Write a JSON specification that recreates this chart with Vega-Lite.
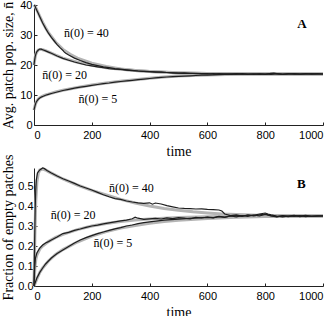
{
  "$schema": "https://vega.github.io/schema/vega-lite/v6.json",
  "padding": {"left": 1, "top": -1, "right": 0, "bottom": 0},
  "bounds": "flush",
  "spacing": 43,
  "config": {
    "view": {"stroke": null},
    "axis": {
      "grid": false,
      "domainColor": "#222",
      "tickColor": "#222",
      "tickSize": -3,
      "labelFont": "Liberation Sans",
      "labelFontSize": 11,
      "labelColor": "#000",
      "titleFont": "Liberation Serif",
      "titleFontSize": 14,
      "titleFontWeight": "normal",
      "titleColor": "#000"
    },
    "axisX": {"labelPadding": 7, "titlePadding": 4, "format": "d"},
    "axisY": {"labelPadding": 5}
  },
  "datasets": {
    "A_th": [
      {"s":40,"t":0,"v":40},{"s":40,"t":5,"v":39.3},{"s":40,"t":10,"v":38.3},{"s":40,"t":20,"v":36.2},{"s":40,"t":30,"v":34.2},{"s":40,"t":40,"v":32.4},{"s":40,"t":50,"v":30.8},{"s":40,"t":75,"v":27.6},{"s":40,"t":100,"v":25.2},{"s":40,"t":125,"v":23.6},{"s":40,"t":150,"v":22.3},{"s":40,"t":200,"v":20.6},{"s":40,"t":250,"v":19.5},{"s":40,"t":300,"v":18.7},{"s":40,"t":350,"v":18.2},{"s":40,"t":400,"v":17.8},{"s":40,"t":450,"v":17.55},{"s":40,"t":500,"v":17.35},{"s":40,"t":600,"v":17.15},{"s":40,"t":700,"v":17.05},{"s":40,"t":800,"v":17.0},{"s":40,"t":1000,"v":17.0},
      {"s":20,"t":0,"v":20},{"s":20,"t":3,"v":22},{"s":20,"t":6,"v":23.5},{"s":20,"t":10,"v":24.4},{"s":20,"t":15,"v":25},{"s":20,"t":20,"v":25.2},{"s":20,"t":25,"v":25.2},{"s":20,"t":30,"v":25.1},{"s":20,"t":40,"v":24.8},{"s":20,"t":50,"v":24.4},{"s":20,"t":75,"v":23.3},{"s":20,"t":100,"v":22.3},{"s":20,"t":150,"v":20.9},{"s":20,"t":200,"v":19.9},{"s":20,"t":250,"v":19.1},{"s":20,"t":300,"v":18.6},{"s":20,"t":350,"v":18.2},{"s":20,"t":400,"v":17.85},{"s":20,"t":500,"v":17.4},{"s":20,"t":600,"v":17.15},{"s":20,"t":700,"v":17.05},{"s":20,"t":1000,"v":17.0},
      {"s":5,"t":0,"v":5},{"s":5,"t":3,"v":6.2},{"s":5,"t":6,"v":7.2},{"s":5,"t":10,"v":8.0},{"s":5,"t":15,"v":8.7},{"s":5,"t":20,"v":9.1},{"s":5,"t":30,"v":9.6},{"s":5,"t":40,"v":10.0},{"s":5,"t":50,"v":10.3},{"s":5,"t":75,"v":11.0},{"s":5,"t":100,"v":11.6},{"s":5,"t":150,"v":12.5},{"s":5,"t":200,"v":13.3},{"s":5,"t":250,"v":14.0},{"s":5,"t":300,"v":14.6},{"s":5,"t":350,"v":15.1},{"s":5,"t":400,"v":15.6},{"s":5,"t":450,"v":16.0},{"s":5,"t":500,"v":16.3},{"s":5,"t":600,"v":16.7},{"s":5,"t":700,"v":16.9},{"s":5,"t":800,"v":17.0},{"s":5,"t":1000,"v":17.0}
    ],
    "A_sim": [
      {"s":40,"t":0,"v":40},{"s":40,"t":3,"v":39.8},{"s":40,"t":6,"v":39},{"s":40,"t":10,"v":38.2},{"s":40,"t":15,"v":37.2},{"s":40,"t":20,"v":36.1},{"s":40,"t":30,"v":34},{"s":40,"t":40,"v":32.2},{"s":40,"t":50,"v":30.6},{"s":40,"t":60,"v":29.2},{"s":40,"t":70,"v":28},{"s":40,"t":80,"v":26.8},{"s":40,"t":90,"v":25.8},{"s":40,"t":100,"v":24.9},{"s":40,"t":105,"v":24.3},{"s":40,"t":110,"v":23.9},{"s":40,"t":120,"v":23.3},{"s":40,"t":140,"v":22.3},{"s":40,"t":160,"v":21.5},{"s":40,"t":180,"v":20.8},{"s":40,"t":200,"v":20.2},{"s":40,"t":220,"v":19.8},{"s":40,"t":240,"v":19.4},{"s":40,"t":260,"v":19.1},{"s":40,"t":280,"v":18.8},{"s":40,"t":300,"v":18.6},{"s":40,"t":320,"v":18.4},{"s":40,"t":340,"v":18.2},{"s":40,"t":360,"v":18.0},{"s":40,"t":380,"v":17.9},{"s":40,"t":400,"v":17.8},{"s":40,"t":420,"v":17.7},{"s":40,"t":440,"v":17.6},{"s":40,"t":460,"v":17.5},{"s":40,"t":480,"v":17.4},{"s":40,"t":500,"v":17.3},{"s":40,"t":520,"v":17.35},{"s":40,"t":540,"v":17.2},{"s":40,"t":560,"v":17.25},{"s":40,"t":580,"v":17.1},{"s":40,"t":600,"v":17.15},{"s":40,"t":620,"v":17.0},{"s":40,"t":640,"v":17.1},{"s":40,"t":660,"v":17.0},{"s":40,"t":680,"v":17.05},{"s":40,"t":700,"v":16.95},{"s":40,"t":720,"v":17.1},{"s":40,"t":740,"v":17.0},{"s":40,"t":760,"v":16.9},{"s":40,"t":780,"v":17.05},{"s":40,"t":800,"v":16.9},{"s":40,"t":820,"v":17.2},{"s":40,"t":830,"v":17.3},{"s":40,"t":840,"v":17.1},{"s":40,"t":860,"v":16.9},{"s":40,"t":880,"v":17.0},{"s":40,"t":900,"v":17.1},{"s":40,"t":920,"v":16.95},{"s":40,"t":940,"v":17.05},{"s":40,"t":960,"v":17.0},{"s":40,"t":980,"v":17.1},{"s":40,"t":1000,"v":17.0},
      {"s":20,"t":0,"v":20},{"s":20,"t":2,"v":21.5},{"s":20,"t":4,"v":22.8},{"s":20,"t":7,"v":23.8},{"s":20,"t":10,"v":24.5},{"s":20,"t":15,"v":25.0},{"s":20,"t":20,"v":25.3},{"s":20,"t":25,"v":25.3},{"s":20,"t":30,"v":25.1},{"s":20,"t":40,"v":24.7},{"s":20,"t":50,"v":24.3},{"s":20,"t":60,"v":23.9},{"s":20,"t":80,"v":23.0},{"s":20,"t":100,"v":22.2},{"s":20,"t":120,"v":21.6},{"s":20,"t":140,"v":21.0},{"s":20,"t":160,"v":20.5},{"s":20,"t":180,"v":20.0},{"s":20,"t":200,"v":19.7},{"s":20,"t":220,"v":19.4},{"s":20,"t":240,"v":19.1},{"s":20,"t":260,"v":18.8},{"s":20,"t":280,"v":18.6},{"s":20,"t":300,"v":18.5},{"s":20,"t":320,"v":18.3},{"s":20,"t":340,"v":18.1},{"s":20,"t":360,"v":18.0},{"s":20,"t":380,"v":17.9},{"s":20,"t":400,"v":17.8},{"s":20,"t":420,"v":17.65},{"s":20,"t":440,"v":17.6},{"s":20,"t":460,"v":17.5},{"s":20,"t":480,"v":17.4},{"s":20,"t":500,"v":17.3},{"s":20,"t":520,"v":17.2},{"s":20,"t":540,"v":17.25},{"s":20,"t":560,"v":17.1},{"s":20,"t":580,"v":17.15},{"s":20,"t":600,"v":17.0},{"s":20,"t":620,"v":17.1},{"s":20,"t":640,"v":16.95},{"s":20,"t":660,"v":17.05},{"s":20,"t":680,"v":17.0},{"s":20,"t":700,"v":17.1},{"s":20,"t":720,"v":16.95},{"s":20,"t":740,"v":17.0},{"s":20,"t":760,"v":17.05},{"s":20,"t":780,"v":16.9},{"s":20,"t":800,"v":17.0},{"s":20,"t":820,"v":16.9},{"s":20,"t":840,"v":17.15},{"s":20,"t":860,"v":17.0},{"s":20,"t":880,"v":17.1},{"s":20,"t":900,"v":16.95},{"s":20,"t":920,"v":17.0},{"s":20,"t":940,"v":17.1},{"s":20,"t":960,"v":16.95},{"s":20,"t":980,"v":17.05},{"s":20,"t":1000,"v":17.0},
      {"s":5,"t":0,"v":5},{"s":5,"t":2,"v":5.8},{"s":5,"t":4,"v":6.6},{"s":5,"t":6,"v":7.2},{"s":5,"t":8,"v":7.7},{"s":5,"t":10,"v":8.0},{"s":5,"t":15,"v":8.6},{"s":5,"t":20,"v":9.0},{"s":5,"t":25,"v":9.3},{"s":5,"t":30,"v":9.5},{"s":5,"t":40,"v":9.9},{"s":5,"t":50,"v":10.2},{"s":5,"t":60,"v":10.5},{"s":5,"t":80,"v":11.0},{"s":5,"t":100,"v":11.5},{"s":5,"t":120,"v":11.9},{"s":5,"t":140,"v":12.3},{"s":5,"t":160,"v":12.6},{"s":5,"t":180,"v":12.9},{"s":5,"t":200,"v":13.2},{"s":5,"t":220,"v":13.5},{"s":5,"t":240,"v":13.8},{"s":5,"t":260,"v":14.0},{"s":5,"t":280,"v":14.3},{"s":5,"t":300,"v":14.5},{"s":5,"t":320,"v":14.7},{"s":5,"t":340,"v":14.9},{"s":5,"t":360,"v":15.1},{"s":5,"t":380,"v":15.3},{"s":5,"t":400,"v":15.5},{"s":5,"t":420,"v":15.7},{"s":5,"t":440,"v":15.9},{"s":5,"t":460,"v":16.0},{"s":5,"t":480,"v":16.1},{"s":5,"t":500,"v":16.2},{"s":5,"t":520,"v":16.3},{"s":5,"t":540,"v":16.4},{"s":5,"t":560,"v":16.5},{"s":5,"t":580,"v":16.6},{"s":5,"t":600,"v":16.65},{"s":5,"t":620,"v":16.7},{"s":5,"t":640,"v":16.8},{"s":5,"t":660,"v":16.85},{"s":5,"t":680,"v":16.9},{"s":5,"t":700,"v":16.95},{"s":5,"t":720,"v":17.0},{"s":5,"t":740,"v":16.9},{"s":5,"t":760,"v":17.0},{"s":5,"t":780,"v":17.05},{"s":5,"t":800,"v":16.95},{"s":5,"t":820,"v":17.1},{"s":5,"t":840,"v":17.0},{"s":5,"t":860,"v":16.9},{"s":5,"t":880,"v":17.0},{"s":5,"t":900,"v":17.05},{"s":5,"t":920,"v":16.95},{"s":5,"t":940,"v":17.0},{"s":5,"t":960,"v":17.1},{"s":5,"t":980,"v":17.0},{"s":5,"t":1000,"v":17.0}
    ],
    "A_lab": [
      {"t":181,"v":30.8,"label":"n\u0304(0) = 40"},
      {"t":106,"v":16.7,"label":"n\u0304(0) = 20"},
      {"t":221,"v":8.6,"label":"n\u0304(0) = 5"}
    ],
    "A_tag": [{"t":927,"v":33.6,"label":"A"}],
    "B_th": [
      {"s":40,"t":0,"v":0},{"s":40,"t":3,"v":0.25},{"s":40,"t":6,"v":0.42},{"s":40,"t":10,"v":0.52},{"s":40,"t":15,"v":0.565},{"s":40,"t":20,"v":0.58},{"s":40,"t":30,"v":0.585},{"s":40,"t":40,"v":0.58},{"s":40,"t":50,"v":0.572},{"s":40,"t":75,"v":0.553},{"s":40,"t":100,"v":0.535},{"s":40,"t":150,"v":0.505},{"s":40,"t":200,"v":0.478},{"s":40,"t":250,"v":0.455},{"s":40,"t":300,"v":0.433},{"s":40,"t":350,"v":0.415},{"s":40,"t":400,"v":0.4},{"s":40,"t":450,"v":0.388},{"s":40,"t":500,"v":0.379},{"s":40,"t":550,"v":0.371},{"s":40,"t":600,"v":0.365},{"s":40,"t":650,"v":0.36},{"s":40,"t":700,"v":0.357},{"s":40,"t":800,"v":0.353},{"s":40,"t":900,"v":0.351},{"s":40,"t":1000,"v":0.35},
      {"s":20,"t":0,"v":0},{"s":20,"t":3,"v":0.09},{"s":20,"t":6,"v":0.13},{"s":20,"t":10,"v":0.155},{"s":20,"t":20,"v":0.185},{"s":20,"t":30,"v":0.2},{"s":20,"t":50,"v":0.222},{"s":20,"t":75,"v":0.243},{"s":20,"t":100,"v":0.258},{"s":20,"t":150,"v":0.282},{"s":20,"t":200,"v":0.3},{"s":20,"t":250,"v":0.313},{"s":20,"t":300,"v":0.323},{"s":20,"t":350,"v":0.33},{"s":20,"t":400,"v":0.335},{"s":20,"t":500,"v":0.342},{"s":20,"t":600,"v":0.346},{"s":20,"t":700,"v":0.348},{"s":20,"t":800,"v":0.349},{"s":20,"t":1000,"v":0.35},
      {"s":5,"t":0,"v":0},{"s":5,"t":10,"v":0.035},{"s":5,"t":20,"v":0.068},{"s":5,"t":30,"v":0.09},{"s":5,"t":50,"v":0.125},{"s":5,"t":75,"v":0.158},{"s":5,"t":100,"v":0.182},{"s":5,"t":150,"v":0.22},{"s":5,"t":200,"v":0.25},{"s":5,"t":250,"v":0.272},{"s":5,"t":300,"v":0.29},{"s":5,"t":350,"v":0.303},{"s":5,"t":400,"v":0.314},{"s":5,"t":450,"v":0.322},{"s":5,"t":500,"v":0.329},{"s":5,"t":600,"v":0.338},{"s":5,"t":700,"v":0.344},{"s":5,"t":800,"v":0.347},{"s":5,"t":1000,"v":0.35}
    ],
    "B_sim": [
      {"s":40,"t":0,"v":0},{"s":40,"t":2,"v":0.2},{"s":40,"t":4,"v":0.38},{"s":40,"t":6,"v":0.48},{"s":40,"t":8,"v":0.53},{"s":40,"t":12,"v":0.565},{"s":40,"t":20,"v":0.58},{"s":40,"t":30,"v":0.59},{"s":40,"t":35,"v":0.588},{"s":40,"t":45,"v":0.578},{"s":40,"t":60,"v":0.565},{"s":40,"t":80,"v":0.55},{"s":40,"t":100,"v":0.536},{"s":40,"t":120,"v":0.525},{"s":40,"t":140,"v":0.513},{"s":40,"t":160,"v":0.5},{"s":40,"t":180,"v":0.49},{"s":40,"t":200,"v":0.48},{"s":40,"t":220,"v":0.468},{"s":40,"t":240,"v":0.456},{"s":40,"t":260,"v":0.446},{"s":40,"t":280,"v":0.437},{"s":40,"t":300,"v":0.433},{"s":40,"t":320,"v":0.425},{"s":40,"t":340,"v":0.42},{"s":40,"t":360,"v":0.416},{"s":40,"t":380,"v":0.413},{"s":40,"t":400,"v":0.416},{"s":40,"t":410,"v":0.409},{"s":40,"t":420,"v":0.415},{"s":40,"t":440,"v":0.41},{"s":40,"t":460,"v":0.402},{"s":40,"t":480,"v":0.396},{"s":40,"t":500,"v":0.39},{"s":40,"t":520,"v":0.388},{"s":40,"t":540,"v":0.387},{"s":40,"t":560,"v":0.385},{"s":40,"t":580,"v":0.386},{"s":40,"t":600,"v":0.383},{"s":40,"t":620,"v":0.382},{"s":40,"t":640,"v":0.38},{"s":40,"t":650,"v":0.375},{"s":40,"t":660,"v":0.36},{"s":40,"t":680,"v":0.352},{"s":40,"t":700,"v":0.356},{"s":40,"t":720,"v":0.35},{"s":40,"t":740,"v":0.355},{"s":40,"t":760,"v":0.353},{"s":40,"t":780,"v":0.36},{"s":40,"t":800,"v":0.365},{"s":40,"t":810,"v":0.36},{"s":40,"t":820,"v":0.356},{"s":40,"t":840,"v":0.35},{"s":40,"t":860,"v":0.346},{"s":40,"t":880,"v":0.35},{"s":40,"t":900,"v":0.348},{"s":40,"t":920,"v":0.352},{"s":40,"t":940,"v":0.347},{"s":40,"t":960,"v":0.35},{"s":40,"t":980,"v":0.349},{"s":40,"t":1000,"v":0.35},
      {"s":20,"t":0,"v":0},{"s":20,"t":2,"v":0.08},{"s":20,"t":5,"v":0.14},{"s":20,"t":10,"v":0.165},{"s":20,"t":20,"v":0.19},{"s":20,"t":30,"v":0.205},{"s":20,"t":40,"v":0.215},{"s":20,"t":50,"v":0.222},{"s":20,"t":60,"v":0.23},{"s":20,"t":80,"v":0.245},{"s":20,"t":100,"v":0.262},{"s":20,"t":120,"v":0.268},{"s":20,"t":140,"v":0.278},{"s":20,"t":160,"v":0.285},{"s":20,"t":180,"v":0.293},{"s":20,"t":200,"v":0.3},{"s":20,"t":220,"v":0.304},{"s":20,"t":240,"v":0.311},{"s":20,"t":260,"v":0.316},{"s":20,"t":280,"v":0.321},{"s":20,"t":300,"v":0.326},{"s":20,"t":320,"v":0.329},{"s":20,"t":340,"v":0.336},{"s":20,"t":350,"v":0.344},{"s":20,"t":360,"v":0.339},{"s":20,"t":380,"v":0.333},{"s":20,"t":400,"v":0.336},{"s":20,"t":420,"v":0.338},{"s":20,"t":440,"v":0.335},{"s":20,"t":460,"v":0.341},{"s":20,"t":480,"v":0.337},{"s":20,"t":500,"v":0.342},{"s":20,"t":520,"v":0.339},{"s":20,"t":540,"v":0.335},{"s":20,"t":560,"v":0.343},{"s":20,"t":580,"v":0.34},{"s":20,"t":600,"v":0.345},{"s":20,"t":620,"v":0.342},{"s":20,"t":640,"v":0.348},{"s":20,"t":660,"v":0.344},{"s":20,"t":680,"v":0.35},{"s":20,"t":700,"v":0.352},{"s":20,"t":720,"v":0.348},{"s":20,"t":740,"v":0.355},{"s":20,"t":760,"v":0.35},{"s":20,"t":780,"v":0.356},{"s":20,"t":800,"v":0.36},{"s":20,"t":820,"v":0.352},{"s":20,"t":840,"v":0.347},{"s":20,"t":860,"v":0.352},{"s":20,"t":880,"v":0.349},{"s":20,"t":900,"v":0.353},{"s":20,"t":920,"v":0.347},{"s":20,"t":940,"v":0.352},{"s":20,"t":960,"v":0.348},{"s":20,"t":980,"v":0.351},{"s":20,"t":1000,"v":0.35},
      {"s":5,"t":0,"v":0},{"s":5,"t":5,"v":0.02},{"s":5,"t":10,"v":0.04},{"s":5,"t":20,"v":0.068},{"s":5,"t":30,"v":0.09},{"s":5,"t":40,"v":0.11},{"s":5,"t":50,"v":0.125},{"s":5,"t":60,"v":0.14},{"s":5,"t":80,"v":0.162},{"s":5,"t":100,"v":0.18},{"s":5,"t":120,"v":0.198},{"s":5,"t":140,"v":0.215},{"s":5,"t":160,"v":0.23},{"s":5,"t":180,"v":0.242},{"s":5,"t":200,"v":0.252},{"s":5,"t":220,"v":0.262},{"s":5,"t":240,"v":0.27},{"s":5,"t":260,"v":0.278},{"s":5,"t":280,"v":0.286},{"s":5,"t":300,"v":0.292},{"s":5,"t":320,"v":0.3},{"s":5,"t":340,"v":0.305},{"s":5,"t":360,"v":0.312},{"s":5,"t":380,"v":0.317},{"s":5,"t":400,"v":0.321},{"s":5,"t":450,"v":0.329},{"s":5,"t":500,"v":0.334},{"s":5,"t":550,"v":0.339},{"s":5,"t":600,"v":0.343},{"s":5,"t":620,"v":0.34},{"s":5,"t":640,"v":0.347},{"s":5,"t":660,"v":0.343},{"s":5,"t":680,"v":0.35},{"s":5,"t":700,"v":0.346},{"s":5,"t":720,"v":0.352},{"s":5,"t":740,"v":0.348},{"s":5,"t":760,"v":0.355},{"s":5,"t":780,"v":0.35},{"s":5,"t":800,"v":0.358},{"s":5,"t":820,"v":0.35},{"s":5,"t":840,"v":0.346},{"s":5,"t":860,"v":0.351},{"s":5,"t":880,"v":0.347},{"s":5,"t":900,"v":0.352},{"s":5,"t":920,"v":0.349},{"s":5,"t":940,"v":0.353},{"s":5,"t":960,"v":0.348},{"s":5,"t":980,"v":0.35},{"s":5,"t":1000,"v":0.351}
    ],
    "B_lab": [
      {"t":337,"v":0.49,"label":"n\u0304(0) = 40"},
      {"t":135,"v":0.353,"label":"n\u0304(0) = 20"},
      {"t":273,"v":0.213,"label":"n\u0304(0) = 5"}
    ],
    "B_tag": [{"t":925,"v":0.508,"label":"B"}]
  },
  "vconcat": [
    {
      "width": 289,
      "height": 120,
      "encoding": {
        "x": {"field": "t", "type": "quantitative", "title": "time", "scale": {"domain": [0, 1000], "nice": false}, "axis": {"values": [0, 200, 400, 600, 800, 1000]}},
        "y": {"field": "v", "type": "quantitative", "title": "Avg. patch pop. size, n\u0304", "scale": {"domain": [0, 40], "nice": false}, "axis": {"values": [0, 10, 20, 30, 40], "titlePadding": 4}}
      },
      "layer": [
        {"data": {"name": "A_th"}, "mark": {"type": "line", "color": "#b4b4b4", "strokeWidth": 3}, "encoding": {"detail": {"field": "s"}}},
        {"data": {"name": "A_sim"}, "mark": {"type": "line", "color": "#1e1e1e", "strokeWidth": 1.2}, "encoding": {"detail": {"field": "s"}}},
        {"data": {"name": "A_lab"}, "mark": {"type": "text", "font": "Liberation Serif", "fontSize": 12, "color": "#000", "baseline": "middle"}, "encoding": {"text": {"field": "label"}}},
        {"data": {"name": "A_tag"}, "mark": {"type": "text", "font": "Liberation Serif", "fontSize": 13, "fontWeight": "bold", "color": "#000", "baseline": "middle"}, "encoding": {"text": {"field": "label"}}}
      ]
    },
    {
      "width": 289,
      "height": 118,
      "encoding": {
        "x": {"field": "t", "type": "quantitative", "title": "time", "scale": {"domain": [0, 1000], "nice": false}, "axis": {"values": [0, 200, 400, 600, 800, 1000]}},
        "y": {"field": "v", "type": "quantitative", "title": "Fraction of empty patches", "scale": {"domain": [0, 0.59], "nice": false}, "axis": {"values": [0, 0.1, 0.2, 0.3, 0.4, 0.5], "titlePadding": 2, "labelPadding": 4}}
      },
      "layer": [
        {"data": {"name": "B_th"}, "mark": {"type": "line", "color": "#b4b4b4", "strokeWidth": 3}, "encoding": {"detail": {"field": "s"}}},
        {"data": {"name": "B_sim"}, "mark": {"type": "line", "color": "#1e1e1e", "strokeWidth": 1.2}, "encoding": {"detail": {"field": "s"}}},
        {"data": {"name": "B_lab"}, "mark": {"type": "text", "font": "Liberation Serif", "fontSize": 12, "color": "#000", "baseline": "middle"}, "encoding": {"text": {"field": "label"}}},
        {"data": {"name": "B_tag"}, "mark": {"type": "text", "font": "Liberation Serif", "fontSize": 13, "fontWeight": "bold", "color": "#000", "baseline": "middle"}, "encoding": {"text": {"field": "label"}}}
      ]
    }
  ]
}
